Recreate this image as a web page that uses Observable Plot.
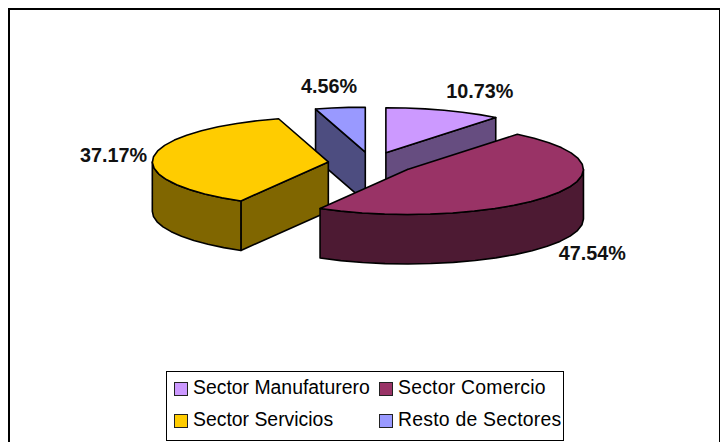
<!DOCTYPE html>
<html><head><meta charset="utf-8">
<script src="https://cdn.jsdelivr.net/npm/d3@7"></script>
<script src="https://cdn.jsdelivr.net/npm/@observablehq/plot@0.6"></script>
<style>
html,body{margin:0;padding:0;background:#fff;overflow:hidden}
#wrap{position:relative;width:728px;height:442px;font-family:"Liberation Sans",Arial,sans-serif;color:#000}
#frame{position:absolute;left:8px;top:8px;width:712px;height:440px;border:1px solid #000;border-left:2px solid #000;border-top:2px solid #000;box-sizing:border-box}
#legend{position:absolute;left:166px;top:371px;width:398px;height:70px;border:1px solid #000;box-sizing:border-box;background:#fff;font-size:19.4px}
.it{position:absolute;white-space:nowrap;line-height:22px}
.sw{position:absolute;width:14px;height:14px;border:1.5px solid #222;box-sizing:border-box}
svg{position:absolute;left:0;top:0}
</style></head><body>
<div id="wrap"><div id="frame"></div></div>
<script>
const categories = ["Sector Manufaturero","Sector Comercio","Sector Servicios","Resto de Sectores"];
const shares = [10.73,47.54,37.17,4.56];
const shareLabels = ["10.73%","47.54%","37.17%","4.56%"];
const topColors = ["#CC99FF","#993366","#FFCC00","#9999FF"];
const sideColors = ["#664D80","#4D1A33","#806600","#4D4D80"];
const drawOrder = [3,0,2,1];
const explode = 0.247;
const depth = 1.1;
const labelX = [0.533,1.05,-1.221,-0.206];
const labelY = [1.36,-1.87,0.14,1.46];

const total = d3.sum(shares);
let acc = 0;
const slices = shares.map((v,i)=>{
  const a0 = acc/total*2*Math.PI; acc += v; const a1 = acc/total*2*Math.PI;
  const mid=(a0+a1)/2;
  return {i,a0,a1,cx:explode*Math.sin(mid),cy:explode*Math.cos(mid)};
});
function arc(s,from,to){
  const n=Math.max(1,Math.ceil((to-from)/(Math.PI/24)));
  return d3.range(n+1).map(k=>{const t=from+(to-from)*k/n;return [s.cx+Math.sin(t),s.cy+Math.cos(t)];});
}
const polys=[]; let pid=0;
function add(points,fill){pid++;points.concat([points[0]]).forEach(p=>polys.push({x:p[0],y:p[1],id:pid,fill}));}
for(const idx of drawOrder){
  const s=slices[idx], side=sideColors[idx], c=[s.cx,s.cy];
  const down=p=>[p[0],p[1]-depth];
  const e0=arc(s,s.a0,s.a0)[0], e1=arc(s,s.a1,s.a1)[0];
  // cut faces turned toward the viewer only
  if(Math.sin(s.a0)<-1e-6) add([c,e0,down(e0),down(c)],side);
  if(Math.sin(s.a1)>1e-6) add([c,e1,down(e1),down(c)],side);
  // outer wall: the part facing the viewer (90deg..270deg)
  const lo=Math.max(s.a0,Math.PI/2), hi=Math.min(s.a1,3*Math.PI/2);
  if(hi>lo){const w=arc(s,lo,hi);add(w.concat(w.map(down).reverse()),side);}
  // top
  add([c].concat(arc(s,s.a0,s.a1)),topColors[idx]);
}
const labels=slices.map((s,i)=>({x:s.cx+labelX[i],y:s.cy+labelY[i],t:shareLabels[i]}));

const cx0=371,cy0=162.7,ax=176,ay=45;
const plot=Plot.plot({
  width:728,height:442,margin:0,
  x:{domain:[-cx0/ax,(728-cx0)/ax],range:[0,728],axis:null},
  y:{domain:[cy0/ay,(cy0-442)/ay],range:[0,442],axis:null},
  marks:[
    Plot.line(polys,{x:"x",y:"y",z:"id",fill:"fill",stroke:"#000",strokeWidth:1.6,curve:"linear",strokeLinejoin:"round"}),
    Plot.text(labels,{x:"x",y:"y",text:"t",fontSize:19.8,fontWeight:"bold",fill:"#111",fontFamily:"Liberation Sans"})
  ]
});
plot.style.background="transparent";
const wrap=document.getElementById("wrap");
wrap.appendChild(plot);
const lg=document.createElement("div");lg.id="legend";
const colL=[7,212], rowT=[4,36];
categories.forEach((c,i)=>{
  const col=i%2,row=i>>1;
  const sw=document.createElement("div");sw.className="sw";sw.style.left=colL[col]+"px";sw.style.top=(rowT[row]+6)+"px";sw.style.background=topColors[i];
  const t=document.createElement("div");t.className="it";t.style.left=(colL[col]+19)+"px";t.style.top=rowT[row]+"px";t.textContent=c;
  if(col===1)t.style.letterSpacing="0.23px";
  lg.appendChild(sw);lg.appendChild(t);
});
wrap.appendChild(lg);
</script></body></html>
